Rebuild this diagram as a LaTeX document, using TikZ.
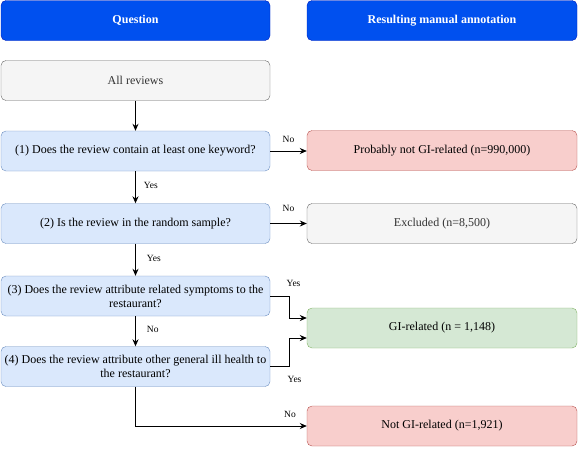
\documentclass[tikz,border=0pt]{standalone}
\usepackage{fontspec}
\setmainfont{Liberation Serif}
\usepackage{tikz}
\usetikzlibrary{arrows.meta}

\definecolor{hdfill}{HTML}{0050EF}
\definecolor{hdline}{HTML}{001DBC}
\definecolor{qfill}{HTML}{DAE8FC}
\definecolor{qline}{HTML}{6C8EBF}
\definecolor{gfill}{HTML}{F5F5F5}
\definecolor{gline}{HTML}{666666}
\definecolor{gtext}{HTML}{333333}
\definecolor{rfill}{HTML}{F8CECC}
\definecolor{rline}{HTML}{B85450}
\definecolor{okfill}{HTML}{D5E8D4}
\definecolor{okline}{HTML}{82B366}

\begin{document}
\begin{tikzpicture}[x=1pt,y=-1pt,
		box/.style={draw,rounded corners=5pt,minimum height=40pt,inner sep=2pt,
			align=center,font=\rmfamily\fontsize{12}{14}\selectfont},
		lbox/.style={box,minimum width=269pt},
		rbox/.style={box,minimum width=270pt},
		head/.style={fill=hdfill,draw=hdline,text=white,font=\rmfamily\fontsize{12}{14}\selectfont\bfseries},
		grey/.style={fill=gfill,draw=gline,text=gtext},
		ques/.style={fill=qfill,draw=qline},
		red/.style={fill=rfill,draw=rline},
		green/.style={fill=okfill,draw=okline},
		arr/.style={draw,line width=0.8pt,-{Stealth[length=7pt,width=6pt]}},
		lab/.style={font=\rmfamily\fontsize{9.5}{11}\selectfont,inner sep=0pt}]
		\useasboundingbox (0,0) rectangle (578,448);
		% headers
		\node [lbox,head] (qhead) at (135.5,20.5) {Question};
		\node [rbox,head] (ahead) at (442,20.5) {Resulting manual annotation};
		% questions
		\node [lbox,grey] (all) at (135.5,80.5) {All reviews};
		\node [lbox,ques] (q1) at (135.5,151) {(1) Does the review contain at least one keyword?};
		\node [lbox,ques] (q2) at (135.5,223.5) {(2) Is the review in the random sample?};
		\node [lbox,ques] (q3) at (135.5,296) {(3) Does the review attribute related symptoms to the\\restaurant?};
		\node [lbox,ques] (q4) at (135.5,366.5) {(4) Does the review attribute other general ill health to\\the restaurant?};
		% annotations
		\node [rbox,red] (pnot) at (442,150.5) {Probably not GI-related (n=990,000)};
		\node [rbox,grey] (excl) at (442,223.5) {Excluded (n=8,500)};
		\node [rbox,green] (gi) at (442,328) {GI-related (n = 1,148)};
		\node [rbox,red] (notgi) at (442,426) {Not GI-related (n=1,921)};
		% connectors
		\draw [arr] (all) -- (q1);
		\draw [arr] (q1) -- (q2) node [lab,pos=0.45,right=8pt] {Yes};
		\draw [arr] (q2) -- (q3) node [lab,pos=0.45,right=11pt] {Yes};
		\draw [arr] (q3) -- (q4) node [lab,pos=0.45,right=11pt] {No};
		\draw [arr] (q1.east) -- (q1.east -| pnot.west) node [lab,pos=0.5,above=8pt] {No};
		\draw [arr] (q2.east) -- (q2.east -| excl.west) node [lab,pos=0.5,above=12pt] {No};
		\draw [arr] (q3.east) -- ++(19,0) |- ([yshift=10pt]gi.west);
		\draw [arr] (q4.east) -- ++(19,0) |- ([yshift=-10pt]gi.west);
		\draw [arr] (q4.south) |- (notgi.west);
		\node [lab] (l3) at (293.5,283) {Yes};
		\node [lab] (l4) at (294.5,379) {Yes};
		\node [lab] (l5) at (290,414) {No};
	\end{tikzpicture}
\end{document}
